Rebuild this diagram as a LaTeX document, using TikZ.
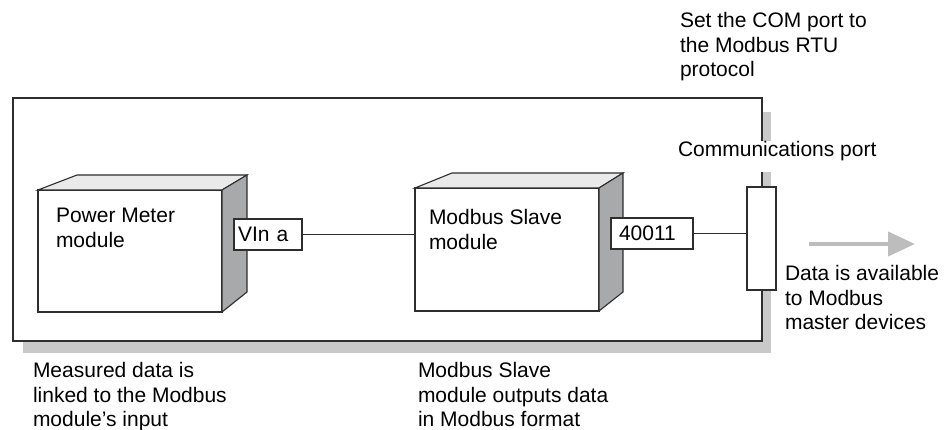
\documentclass[tikz,border=0pt]{standalone}
\usepackage{fontspec}
\setmainfont{Liberation Sans}
\usetikzlibrary{calc,arrows.meta}
\definecolor{edgecol}{HTML}{2E2E2E}
\definecolor{topface}{HTML}{EAEAEA}
\definecolor{sideface}{HTML}{A7A9AB}
\definecolor{shadowcol}{HTML}{C9C9C9}
\definecolor{arrowcol}{HTML}{BDBDBD}
\begin{document}
\begin{tikzpicture}[x=1pt,y=-1pt,
  every node/.style={font=\fontsize{21}{24.8}\selectfont, inner sep=0pt, outer sep=0pt},
  edge/.style={draw=edgecol, line width=1.1pt, line join=miter},
  face/.style={edge, fill=white, anchor=north west},
  topf/.style={edge, fill=topface},
  sidef/.style={edge, fill=sideface},
  regbox/.style={edge, fill=white, anchor=north west, minimum height=31pt, align=left},
  txt/.style={anchor=north west, align=left},
  link/.style={draw=edgecol, line width=1.1pt}
]
\useasboundingbox (0,0) rectangle (951,430);

% shadow and frame
\fill[shadowcol] (23,112) rectangle (771,353);
\node[face, minimum width=749pt, minimum height=243pt] (frame) at (13,98) {};

% Power Meter module block
\node[face, minimum width=184pt, minimum height=122pt] (pm) at (38,190) {};
\path[topf] (pm.north west) -- ($(pm.north west)+(39,-15)$) -- ($(pm.north east)+(25,-15)$) -- (pm.north east) -- cycle;
\path[sidef] (pm.north east) -- ($(pm.north east)+(25,-15)$) -- ($(pm.south east)+(25,-20)$) -- (pm.south east) -- cycle;
\node[txt] (pmlabel) at (56,208) {Power Meter\\module};

% Modbus Slave module block
\node[face, minimum width=184pt, minimum height=123pt] (ms) at (415,188) {};
\path[topf] (ms.north west) -- ($(ms.north west)+(37,-15)$) -- ($(ms.north east)+(24,-15)$) -- (ms.north east) -- cycle;
\path[sidef] (ms.north east) -- ($(ms.north east)+(24,-15)$) -- ($(ms.south east)+(24,-19)$) -- (ms.south east) -- cycle;
\node[txt] (mslabel) at (429,209) {Modbus Slave\\module};

% register boxes
\node[regbox, text width=60pt, inner xsep=4pt] (vin) at (234,219) {VIn a};
\node[regbox, text width=66pt, inner xsep=8pt] (reg) at (611,218) {40011};

% communications port
\node[face, minimum width=29pt, minimum height=103pt] (port) at (747,187) {};

% connectors
\draw[link] (vin.east) -- (vin.east -| ms.west);
\draw[link] (reg.east) -- (reg.east -| port.west);

% output arrow
\coordinate (arrs) at (809,244);
\coordinate (arre) at (915,244);
\draw[arrowcol, line width=4pt, -{Triangle[length=27pt,width=24pt]}] (arrs) -- (arre);

% labels
\node[txt] (comlabel) at (680,12) {Set the COM port to\\the Modbus RTU\\protocol};
\node[anchor=base west, fill=white, text height=16pt, text depth=15pt, inner xsep=1pt] (portlabel) at (677,157) {Communications port};
\node[txt] (datalabel) at (785,265) {Data is available\\to Modbus\\master devices};
\node[txt] (measlabel) at (33,362) {Measured data is\\linked to the Modbus\\module’s input};
\node[txt] (outlabel) at (418,362) {Modbus Slave\\module outputs data\\in Modbus format};
\end{tikzpicture}
\end{document}
